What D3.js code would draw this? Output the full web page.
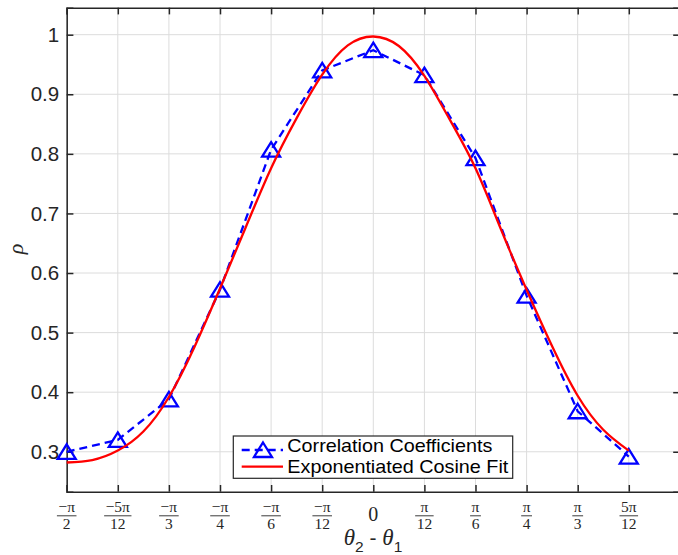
<!DOCTYPE html>
<html>
<head>
<meta charset="utf-8">
<script src="https://cdn.jsdelivr.net/npm/d3@7"></script>
<style>
  html, body { margin: 0; padding: 0; background: #fff; }
  svg { display: block; }
</style>
</head>
<body>
<svg id="chart" width="678" height="555"></svg>
<script>
// ---- data (x in units of pi) ----
const xTickFrac = [-1/2, -5/12, -1/3, -1/4, -1/6, -1/12, 0, 1/12, 1/6, 1/4, 1/3, 5/12];
const xTickNum  = ["\u2212\u03C0", "\u22125\u03C0", "\u2212\u03C0", "\u2212\u03C0", "\u2212\u03C0", "\u2212\u03C0", "0", "\u03C0", "\u03C0", "\u03C0", "\u03C0", "5\u03C0"];
const xTickDen  = ["2", "12", "3", "4", "6", "12", "", "12", "6", "4", "3", "12"];
const yTicks    = [0.3, 0.4, 0.5, 0.6, 0.7, 0.8, 0.9, 1];
const yTickLabels = ["0.3", "0.4", "0.5", "0.6", "0.7", "0.8", "0.9", "1"];

const corrX = [-1/2, -5/12, -1/3, -1/4, -1/6, -1/12, 0, 1/12, 1/6, 1/4, 1/3, 5/12];
const corrY = [0.300, 0.320, 0.388, 0.572, 0.807, 0.940, 0.974, 0.932, 0.793, 0.562, 0.368, 0.292];

const fitX = [-12/24, -11/24, -10/24, -9/24, -8/24, -7/24, -6/24, -5/24, -4/24, -3/24, -2/24, -1/24, 0,
              1/24, 2/24, 3/24, 4/24, 5/24, 6/24, 7/24, 8/24, 9/24, 10/24];
const fitY = [0.282, 0.286, 0.302, 0.334, 0.392, 0.476, 0.574, 0.676, 0.776, 0.860, 0.933, 0.982, 0.997,
              0.981, 0.931, 0.857, 0.776, 0.673, 0.572, 0.477, 0.394, 0.337, 0.302];

const seriesNames = ["Correlation Coefficients", "Exponentiated Cosine Fit"];

// ---- layout ----
const L = 66.7, R = 679.9, T = 7.7, B = 491.7;
const svg = d3.select("#chart");
const x = d3.scaleLinear().domain([-Math.PI/2, Math.PI/2]).range([L, R]);
const y = d3.scaleLinear().domain([0.233, 1.0453]).range([B, T]);

const axisColor = "#262626";
const sans = "'Liberation Sans', Arial, Helvetica, sans-serif";
const serif = "'Liberation Serif', 'Times New Roman', serif";
const xTickVals = xTickFrac.map(f => f * Math.PI);

// grid
const grid = svg.append("g");
grid.selectAll("line.gx").data(xTickVals).join("line")
  .attr("x1", d => x(d)).attr("x2", d => x(d)).attr("y1", T).attr("y2", B)
  .attr("stroke", "#dcdcdc").attr("stroke-width", 1);
grid.selectAll("line.gy").data(yTicks).join("line")
  .attr("x1", L).attr("x2", R).attr("y1", d => y(d)).attr("y2", d => y(d))
  .attr("stroke", "#dcdcdc").attr("stroke-width", 1);

// axes (ticks inward)
const tickLen = 6.7;
const gLeft = svg.append("g").attr("transform", `translate(${L},0)`)
  .call(d3.axisLeft(y).tickValues(yTicks).tickSize(-tickLen).tickPadding(7.5)
        .tickFormat((d, i) => yTickLabels[i]));
const gRight = svg.append("g").attr("transform", `translate(${R},0)`)
  .call(d3.axisRight(y).tickValues(yTicks).tickSize(-tickLen).tickFormat(""));
const gBottom = svg.append("g").attr("transform", `translate(0,${B})`)
  .call(d3.axisBottom(x).tickValues(xTickVals).tickSize(-tickLen).tickFormat(""));
const gTop = svg.append("g").attr("transform", `translate(0,${T})`)
  .call(d3.axisTop(x).tickValues(xTickVals).tickSize(-tickLen).tickFormat(""));
[gLeft, gRight, gBottom, gTop].forEach(g => {
  g.select(".domain").attr("stroke", axisColor).attr("stroke-width", 1.5);
  g.selectAll(".tick line").attr("stroke", axisColor).attr("stroke-width", 1.5);
});
gLeft.selectAll(".tick text").attr("font-family", sans).attr("font-size", 20.5)
  .attr("fill", "#262626");

// x tick labels as fractions
const xl = svg.append("g");
xTickVals.forEach((v, i) => {
  const cx = x(v);
  if (xTickDen[i] === "") {
    xl.append("text").attr("x", cx).attr("y", 520.5).attr("text-anchor", "middle")
      .attr("font-family", serif).attr("font-size", 20).attr("fill", "#262626").text(xTickNum[i]);
    return;
  }
  const num = xl.append("text").attr("x", cx).attr("y", 511.8).attr("text-anchor", "middle")
    .attr("font-family", serif).attr("font-size", 15.5).attr("fill", "#262626").text(xTickNum[i]);
  const den = xl.append("text").attr("x", cx).attr("y", 528.5).attr("text-anchor", "middle")
    .attr("font-family", serif).attr("font-size", 15.5).attr("fill", "#262626").text(xTickDen[i]);
  const w = Math.max(num.node().getComputedTextLength(), den.node().getComputedTextLength()) + 3;
  xl.append("line").attr("x1", cx - w/2).attr("x2", cx + w/2).attr("y1", 515.8).attr("y2", 515.8)
    .attr("stroke", "#262626").attr("stroke-width", 0.9);
});

// axis labels
const xlab = svg.append("text").attr("x", 373).attr("y", 544.5).attr("text-anchor", "middle")
  .attr("font-family", serif).attr("font-size", 23).attr("fill", "#262626");
xlab.append("tspan").attr("font-style", "italic").text("\u03B8");
xlab.append("tspan").attr("font-size", 15.5).attr("dy", 7).attr("font-family", sans).text("2");
xlab.append("tspan").attr("dy", -7).attr("font-family", sans).attr("font-size", 21).text(" - ");
xlab.append("tspan").attr("font-style", "italic").text("\u03B8");
xlab.append("tspan").attr("font-size", 15.5).attr("dy", 7).attr("font-family", sans).text("1");

svg.append("text").attr("transform", "translate(23,249) rotate(-90)").attr("text-anchor", "middle")
  .attr("font-family", serif).attr("font-style", "italic").attr("font-size", 22).attr("fill", "#262626")
  .text("\u03C1");

// data series
const corrData = corrX.map((v, i) => [v * Math.PI, corrY[i]]);
const fitData = fitX.map((v, i) => [v * Math.PI, fitY[i]]);
const blue = "#0000ff", red = "#ff0000";
const triPath = "M0,-7.5 L9,7 L-9,7 Z";

svg.append("path").datum(corrData)
  .attr("d", d3.line().x(d => x(d[0])).y(d => y(d[1])))
  .attr("fill", "none").attr("stroke", blue).attr("stroke-width", 2.3)
  .attr("stroke-dasharray", "8,5");
svg.append("g").selectAll("path").data(corrData).join("path")
  .attr("transform", d => `translate(${x(d[0])},${y(d[1])})`)
  .attr("d", triPath).attr("fill", "none").attr("stroke", blue).attr("stroke-width", 2.3)
  .attr("stroke-linejoin", "miter");

svg.append("path").datum(fitData)
  .attr("d", d3.line().x(d => x(d[0])).y(d => y(d[1])).curve(d3.curveNatural))
  .attr("fill", "none").attr("stroke", red).attr("stroke-width", 2.3);

// legend
const lg = svg.append("g");
lg.append("rect").attr("x", 233.3).attr("y", 436).attr("width", 279.4).attr("height", 42.3)
  .attr("fill", "#fff").attr("stroke", axisColor).attr("stroke-width", 1.2);
lg.append("line").attr("x1", 241.7).attr("x2", 283).attr("y1", 450).attr("y2", 450)
  .attr("stroke", blue).attr("stroke-width", 2.3).attr("stroke-dasharray", "8,5");
lg.append("path").attr("transform", "translate(263,450)").attr("d", triPath)
  .attr("fill", "none").attr("stroke", blue).attr("stroke-width", 2.3);
lg.append("line").attr("x1", 241.7).attr("x2", 283).attr("y1", 466.7).attr("y2", 466.7)
  .attr("stroke", red).attr("stroke-width", 2.3);
lg.append("text").attr("x", 287.3).attr("y", 452).attr("font-family", sans).attr("font-size", 18.2)
  .attr("textLength", 205).attr("lengthAdjust", "spacingAndGlyphs")
  .attr("fill", "#000").text(seriesNames[0]);
lg.append("text").attr("x", 287.3).attr("y", 472.5).attr("font-family", sans).attr("font-size", 18.2)
  .attr("textLength", 221).attr("lengthAdjust", "spacingAndGlyphs")
  .attr("fill", "#000").text(seriesNames[1]);
</script>
</body>
</html>
